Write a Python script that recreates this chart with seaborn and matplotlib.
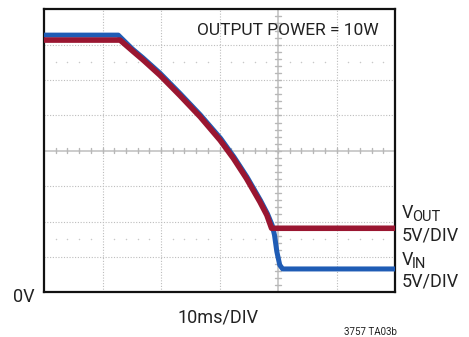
import numpy as np
import pandas as pd
import matplotlib
matplotlib.use("Agg")
import matplotlib.pyplot as plt
import seaborn as sns

# ---- data (time in divisions of 10 ms, voltage in divisions of 5 V) ----
vout_t = [0.0, 1.30, 1.53, 1.70, 1.98, 2.32, 2.67, 3.01, 3.24, 3.46, 3.69, 3.81, 3.89, 6.0]
vout_v = [7.13, 7.13, 6.80, 6.56, 6.14, 5.57, 4.96, 4.30, 3.78, 3.22, 2.56, 2.18, 1.81, 1.81]
vin_t = [0.0, 1.27, 1.51, 1.69, 1.98, 2.32, 2.67, 3.02, 3.25, 3.47, 3.70, 3.82, 3.90, 3.94, 3.98, 4.03, 4.08, 6.0]
vin_v = [7.27, 7.27, 6.88, 6.63, 6.20, 5.63, 5.02, 4.35, 3.82, 3.26, 2.60, 2.22, 1.90, 1.62, 1.15, 0.77, 0.66, 0.66]

title_text = "OUTPUT POWER = 10W"
xlabel_text = "10ms/DIV"
zero_label = "0V"
fig_id = "3757 TA03b"

W, H = 469, 337
sns.set_theme(style="white")
plt.rcParams['font.family'] = ['Roboto', 'DejaVu Sans']

fig = plt.figure(figsize=(W / 100, H / 100), dpi=100)
ax = fig.add_axes([44 / W, 1 - 292.3 / H, 351 / W, 283 / H])

# graticule
grid_c = "#bdbdbd"
for gx in [1, 2, 3, 5]:
    ax.axvline(gx, color=grid_c, lw=0.8, ls=(0, (1, 1.5)), zorder=1)
for gy in [1, 2, 3, 5, 6, 7]:
    ax.axhline(gy, color=grid_c, lw=0.8, ls=(0, (1, 1.5)), zorder=1)
ax.axvline(4, color="#c4c4c4", lw=1.2, zorder=1)
ax.axhline(4, color="#c4c4c4", lw=1.2, zorder=1)
minor_x = np.arange(0.2, 6.0, 0.2)
minor_y = np.arange(0.2, 8.0, 0.2)
ax.plot(np.column_stack([minor_x, minor_x]).T, np.tile([3.93, 4.07], (len(minor_x), 1)).T,
        color="#b8b8b8", lw=1.0, zorder=1)
ax.plot(np.tile([3.95, 4.05], (len(minor_y), 1)).T, np.column_stack([minor_y, minor_y]).T,
        color="#b8b8b8", lw=1.0, zorder=1)
dots_x = np.array([v for v in minor_x if abs(v - round(v)) > 0.05])
for ry in [6.5, 1.5]:
    ax.scatter(dots_x, np.full(len(dots_x), ry), s=1.2, color="#c8c8c8", zorder=1, linewidths=0)

# traces
df_in = pd.DataFrame({"t": vin_t, "v": vin_v})
df_out = pd.DataFrame({"t": vout_t, "v": vout_v})
sns.lineplot(data=df_in, x="t", y="v", ax=ax, color="#1f5cb5", lw=3.6,
             estimator=None, sort=False, zorder=3)
sns.lineplot(data=df_out, x="t", y="v", ax=ax, color="#9a1631", lw=4.0,
             estimator=None, sort=False, zorder=4)

ax.set_xlim(0, 6)
ax.set_ylim(0, 8)
ax.set_xticks([])
ax.set_yticks([])
ax.set_xlabel("")
ax.set_ylabel("")
for s in ax.spines.values():
    s.set_color("#111111")
    s.set_linewidth(1.6)
    s.set_visible(True)

tc = "#222222"
def ftext(x, y, s, size, ha="left"):
    fig.text(x / W, 1 - y / H, s, fontsize=size, ha=ha, va="baseline", color=tc)

ftext(379, 35, title_text, 12.5, ha="right")
ftext(402, 218, "V", 13)
ftext(412, 221, "OUT", 10.5)
ftext(402, 240, "5V/DIV", 13)
ftext(402, 265, "V", 13)
ftext(412, 268, "IN", 10.5)
ftext(402, 286, "5V/DIV", 13)
ftext(35, 302, zero_label, 13, ha="right")
ftext(218, 323, xlabel_text, 13, ha="center")
ftext(397, 335, fig_id, 7, ha="right")

fig.savefig("out.png", dpi=100)
